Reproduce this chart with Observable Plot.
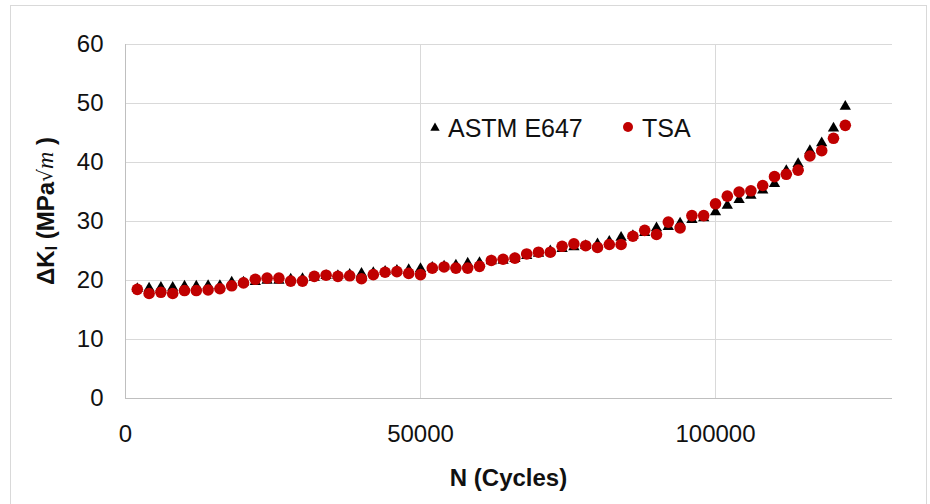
<!DOCTYPE html>
<html>
<head>
<meta charset="utf-8">
<script src="https://cdn.jsdelivr.net/npm/d3@7"></script>
<script src="https://cdn.jsdelivr.net/npm/@observablehq/plot@0.6"></script>
<style>
  html, body { margin: 0; padding: 0; background: #fff; }
  #chart { width: 930px; height: 504px; position: relative; }
</style>
</head>
<body>
<div id="chart"></div>
<script>
// Load cycles at which the stress-intensity range was evaluated
const cycles = [
  2000, 4000, 6000, 8000, 10000, 12000, 14000, 16000, 18000, 20000,
  22000, 24000, 26000, 28000, 30000, 32000, 34000, 36000, 38000, 40000,
  42000, 44000, 46000, 48000, 50000, 52000, 54000, 56000, 58000, 60000,
  62000, 64000, 66000, 68000, 70000, 72000, 74000, 76000, 78000, 80000,
  82000, 84000, 86000, 88000, 90000, 92000, 94000, 96000, 98000, 100000,
  102000, 104000, 106000, 108000, 110000, 112000, 114000, 116000, 118000, 120000,
  122000
];

// ΔK_I from the ASTM E647 compliance relation (MPa√m)
const astmE647 = [
  18.6, 18.7, 18.8, 18.8, 19.0, 19.0, 19.1, 19.1, 19.7, 19.7,
  19.8, 20.0, 20.0, 20.2, 20.3, 20.5, 20.8, 20.8, 21.0, 21.2,
  21.3, 21.5, 21.7, 21.8, 22.0, 22.2, 22.4, 22.6, 22.9, 23.0,
  23.3, 23.4, 23.7, 24.2, 24.6, 25.0, 25.4, 25.7, 25.9, 26.2,
  26.6, 27.3, 27.6, 28.1, 28.9, 29.1, 29.7, 30.3, 30.6, 31.6,
  32.7, 33.7, 34.4, 35.3, 36.4, 38.6, 39.8, 42.0, 43.3, 45.8,
  49.5
];

// ΔK_I measured by thermoelastic stress analysis (MPa√m)
const tsa = [
  18.5, 17.8, 18.0, 17.8, 18.3, 18.3, 18.4, 18.6, 19.1, 19.6,
  20.2, 20.4, 20.4, 19.9, 19.9, 20.7, 20.9, 20.7, 20.8, 20.3,
  21.0, 21.4, 21.5, 21.2, 21.0, 22.1, 22.3, 22.1, 22.1, 22.4,
  23.4, 23.6, 23.8, 24.5, 24.8, 24.8, 25.8, 26.2, 25.9, 25.6,
  26.1, 26.1, 27.5, 28.5, 27.8, 29.9, 28.9, 31.0, 31.0, 33.0,
  34.3, 35.0, 35.2, 36.1, 37.6, 38.0, 38.7, 41.1, 42.0, 44.1,
  46.3
];

const xTicks = [0, 50000, 100000];
const yTicks = [0, 10, 20, 30, 40, 50, 60];
const seriesNames = ["ASTM E647", "TSA"];

const astmRows = cycles.map((n, i) => ({n, k: astmE647[i]}));
const tsaRows = cycles.map((n, i) => ({n, k: tsa[i]}));

const font = "'Liberation Sans', Arial, sans-serif";
const W = 930, H = 504;
const mL = 125, mR = 38, mT = 44, mB = 106;

const chart = Plot.plot({
  width: W,
  height: H,
  marginLeft: mL,
  marginRight: mR,
  marginTop: mT,
  marginBottom: mB,
  style: {fontFamily: font, fontSize: "24px", color: "#111", background: "#fff", overflow: "visible"},
  x: {domain: [0, 130000], ticks: xTicks, tickFormat: d => String(d), tickSize: 0, tickPadding: 26, label: null},
  y: {domain: [0, 60], ticks: yTicks, tickSize: 0, tickPadding: 22, label: null},
  marks: [
    Plot.gridY(yTicks.filter(d => d > 0), {stroke: "#d9d9d9", strokeOpacity: 1, strokeWidth: 1}),
    Plot.gridX(xTicks.filter(d => d > 0), {stroke: "#d9d9d9", strokeOpacity: 1, strokeWidth: 1}),
    Plot.ruleX([0], {stroke: "#bfbfbf", strokeWidth: 1}),
    Plot.ruleY([0], {stroke: "#bfbfbf", strokeWidth: 1}),
    Plot.dot(astmRows, {x: "n", y: "k", symbol: "triangle", r: 4.2, fill: "#000", stroke: "none"}),
    Plot.dot(tsaRows, {x: "n", y: "k", symbol: "circle", r: 5.8, fill: "#c00000", stroke: "none"})
  ]
});

document.getElementById("chart").appendChild(chart);

const svg = d3.select(chart);

// Outer chart frame
svg.insert("rect", ":first-child")
  .attr("x", 10.5).attr("y", 5.5)
  .attr("width", 916).attr("height", 520)
  .attr("fill", "none").attr("stroke", "#d9d9d9");

// x-axis title
svg.append("text")
  .attr("x", (mL + (W - mR)) / 2)
  .attr("y", 477)
  .attr("text-anchor", "middle")
  .attr("dominant-baseline", "central")
  .attr("font-family", font)
  .attr("font-size", 24)
  .attr("font-weight", "bold")
  .attr("fill", "#111")
  .text("N (Cycles)");

// y-axis title: ΔK_I (MPa√m)
const yTitle = svg.append("text")
  .attr("transform", "translate(45,211) rotate(-90)")
  .attr("text-anchor", "middle")
  .attr("dominant-baseline", "central")
  .attr("font-family", font)
  .attr("font-size", 24)
  .attr("font-weight", "bold")
  .attr("fill", "#111");
yTitle.append("tspan").text("ΔK");
yTitle.append("tspan").attr("font-size", 16).attr("dy", 6).text("I");
yTitle.append("tspan").attr("dy", -6).text(" (MPa");
yTitle.append("tspan").attr("font-weight", "normal").attr("font-family", "'DejaVu Serif', serif").attr("font-size", 20).text("√");
yTitle.append("tspan").attr("font-weight", "normal").attr("font-style", "italic").attr("font-family", "'Liberation Serif', serif").attr("font-size", 24).text("m");
yTitle.append("tspan").text(" )");

// Legend
const legend = svg.append("g")
  .attr("font-family", font)
  .attr("font-size", 25)
  .attr("fill", "#111")
  .attr("text-anchor", "start");
legend.append("path")
  .attr("transform", "translate(435,128)")
  .attr("d", d3.symbol(d3.symbolTriangle, 38)())
  .attr("fill", "#000");
legend.append("text").attr("x", 448).attr("y", 128).attr("dominant-baseline", "central").text(seriesNames[0]);
legend.append("circle").attr("cx", 628).attr("cy", 127).attr("r", 5).attr("fill", "#c00000");
legend.append("text").attr("x", 642).attr("y", 128).attr("dominant-baseline", "central").text(seriesNames[1]);
</script>
</body>
</html>
